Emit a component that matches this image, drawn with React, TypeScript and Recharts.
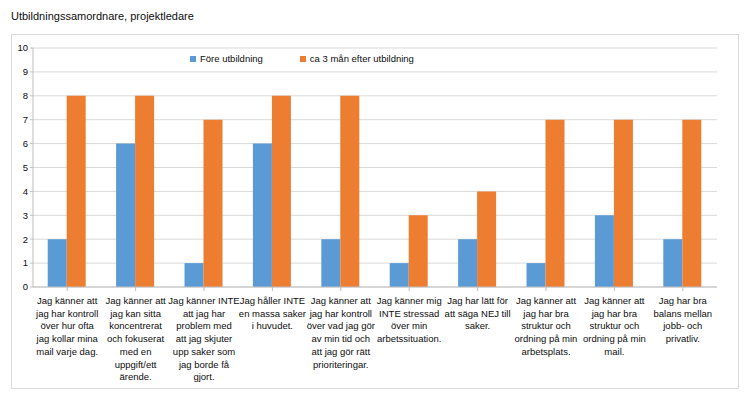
import React from "react";
import { BarChart, Bar, XAxis, YAxis, CartesianGrid } from "recharts";

const title = "Utbildningssamordnare, projektledare";

const categories = [
  "Jag känner att\njag har kontroll\növer hur ofta\njag kollar mina\nmail varje dag.",
  "Jag känner att\njag kan sitta\nkoncentrerat\noch fokuserat\nmed en\nuppgift/ett\närende.",
  "Jag känner INTE\natt jag har\nproblem med\natt jag skjuter\nupp saker som\njag borde få\ngjort.",
  "Jag håller INTE\nen massa saker\ni huvudet.",
  "Jag känner att\njag har kontroll\növer vad jag gör\nav min tid och\natt jag gör rätt\nprioriteringar.",
  "Jag känner mig\nINTE stressad\növer min\narbetssituation.",
  "Jag har lätt för\natt säga NEJ till\nsaker.",
  "Jag känner att\njag har bra\nstruktur och\nordning på min\narbetsplats.",
  "Jag känner att\njag har bra\nstruktur och\nordning på min\nmail.",
  "Jag har bra\nbalans mellan\njobb- och\nprivatliv.",
];

const before = [2, 6, 1, 6, 2, 1, 2, 1, 3, 2];
const after = [8, 8, 7, 8, 8, 3, 4, 7, 7, 7];

const seriesNames = ["Före utbildning", "ca 3 mån efter utbildning"];
const colors = ["#5b9bd5", "#ed7d31"];
const yTicks = [0, 1, 2, 3, 4, 5, 6, 7, 8, 9, 10];

const data = categories.map((c, i) => ({ cat: c, before: before[i], after: after[i] }));

const font = "'Liberation Sans', Arial, sans-serif";
const textColor = "#0d0d0d";

const CatTick = (props: any) => {
  const { x, y, payload } = props;
  const lines = String(payload.value).split("\n");
  return (
    <text x={x} y={y + 11} textAnchor="middle" fill={textColor} fontSize={9.5} fontFamily={font}>
      {lines.map((l: string, i: number) => (
        <tspan key={i} x={x} dy={i === 0 ? 0 : 12.7}>
          {l}
        </tspan>
      ))}
    </text>
  );
};

export default function App() {
  return (
    <div style={{ position: "absolute", left: 0, top: 0, width: 754, height: 397, background: "#fff" }}>
      <div style={{ position: "absolute", left: 11, top: 10, fontFamily: font, fontSize: 11, color: textColor }}>
        {title}
      </div>
      <div
        style={{
          position: "absolute",
          left: 11,
          top: 34,
          width: 728,
          height: 355,
          border: "1px solid #d9d9d9",
          boxSizing: "border-box",
        }}
      >
        <BarChart
          width={726}
          height={353}
          data={data}
          margin={{ top: 13, right: 21, left: 0, bottom: 0 }}
          barCategoryGap="21.5%"
          barGap={0}
          style={{ overflow: "visible" }}
        >
          <CartesianGrid vertical={false} stroke="#d9d9d9" />
          <XAxis
            dataKey="cat"
            interval={0}
            height={101}
            tick={<CatTick />}
            tickSize={4}
            axisLine={{ stroke: "#bfbfbf" }}
            tickLine={{ stroke: "#bfbfbf" }}
          />
          <YAxis
            domain={[0, 10]}
            ticks={yTicks}
            width={21}
            tickSize={3}
            tick={{ fill: textColor, fontSize: 9.5, fontFamily: font }}
            axisLine={{ stroke: "#bfbfbf" }}
            tickLine={{ stroke: "#bfbfbf" }}
          />
          <Bar dataKey="before" name={seriesNames[0]} fill={colors[0]} isAnimationActive={false} />
          <Bar dataKey="after" name={seriesNames[1]} fill={colors[1]} isAnimationActive={false} />
        </BarChart>
        <div
          style={{
            position: "absolute",
            left: 178,
            top: 18,
            display: "flex",
            fontFamily: font,
            fontSize: 9.5,
            color: textColor,
          }}
        >
          {seriesNames.map((n, i) => (
            <div key={n} style={{ display: "flex", alignItems: "center", marginRight: i === 0 ? 37 : 0 }}>
              <span
                style={{ width: 6, height: 6, background: colors[i], display: "inline-block", marginRight: 4 }}
              />
              {n}
            </div>
          ))}
        </div>
      </div>
    </div>
  );
}
